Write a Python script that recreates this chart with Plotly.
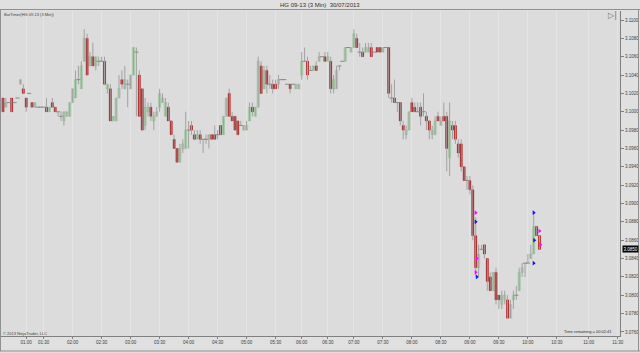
import plotly.graph_objects as go

# ---------------- data ----------------
tick_idx = [8, 14, 24, 34, 44, 54, 64, 74, 84, 94, 103, 112, 121, 131, 141, 151, 161, 171, 181, 191, 202, 212]
tick_text = ["01:00", "01:30", "02:00", "02:30", "03:00", "03:30", "04:00", "04:30", "05:00", "05:30", "06:00",
             "06:30", "07:00", "07:30", "08:00", "08:30", "09:00", "09:30", "10:00", "10:30", "11:00", "11:30"]

price_ticks = [3.0760, 3.0780, 3.0800, 3.0820, 3.0840, 3.0860, 3.0880, 3.0900, 3.0920,
               3.0940, 3.0960, 3.0980, 3.1000, 3.1020, 3.1040, 3.1060, 3.1080, 3.1100]

opens = [
    3.1015, 3.1005, 3.1010, 3.1015, 3.1010, 3.1015, 3.1030, 3.1025, 3.1015, 3.1020,
    3.1010, 3.1005, 3.1005, 3.1005, 3.1005, 3.1005, 3.1000, 3.1010, 3.1005, 3.1000,
    3.0995, 3.0990, 3.0995, 3.0995, 3.1010, 3.1015, 3.1035, 3.1025, 3.1055, 3.1080,
    3.1050, 3.1060, 3.1050, 3.1055, 3.1055, 3.1055, 3.1025, 3.1025, 3.0990, 3.0990,
    3.1015, 3.1035, 3.1025, 3.1030, 3.1025, 3.1040, 3.1065, 3.1040, 3.1025, 3.0985,
    3.1000, 3.1005, 3.0990, 3.0995, 3.1005, 3.1010, 3.0995, 3.1005, 3.0990, 3.0970,
    3.0960, 3.0945, 3.0960, 3.0960, 3.0980, 3.0985, 3.0975, 3.0970, 3.0975, 3.0970,
    3.0970, 3.0970, 3.0975, 3.0975, 3.0975, 3.0985, 3.0975, 3.0995, 3.1020, 3.0995,
    3.0995, 3.0990, 3.0985, 3.0980, 3.0980, 3.0990, 3.1005, 3.0995, 3.1005, 3.1050,
    3.1025, 3.1045, 3.1030, 3.1030, 3.1030, 3.1030, 3.1035, 3.1035, 3.1030, 3.1030,
    3.1030, 3.1025, 3.1025, 3.1040, 3.1055, 3.1055, 3.1045, 3.1045, 3.1050, 3.1055,
    3.1060, 3.1060, 3.1055, 3.1055, 3.1025, 3.1025, 3.1050, 3.1055, 3.1055, 3.1070,
    3.1065, 3.1070, 3.1080, 3.1065, 3.1065, 3.1065, 3.1065, 3.1070, 3.1065, 3.1070,
    3.1070, 3.1065, 3.1070, 3.1070, 3.1015, 3.1015, 3.1010, 3.1010, 3.0985, 3.0975,
    3.0980, 3.1010, 3.1005, 3.1000, 3.1005, 3.1000, 3.0995, 3.0990, 3.0975, 3.0975,
    3.0995, 3.0985, 3.0995, 3.0995, 3.0950, 3.0985, 3.0985, 3.0965, 3.0965, 3.0940,
    3.0925, 3.0925, 3.0915, 3.0865, 3.0830, 3.0850, 3.0855, 3.0840, 3.0820, 3.0805,
    3.0825, 3.0800, 3.0790, 3.0795, 3.0795, 3.0775, 3.0795, 3.0800, 3.0805, 3.0825,
    3.0835, 3.0835, 3.0840, 3.0845, 3.0875, 3.0865,
]

closes = [
    3.1000, 3.1010, 3.1010, 3.1000, 3.1010, 3.1015, 3.1035, 3.1020, 3.1005, 3.1020,
    3.1005, 3.1010, 3.1005, 3.1005, 3.1005, 3.1000, 3.1005, 3.1005, 3.1000, 3.1000,
    3.0995, 3.1000, 3.1000, 3.1010, 3.1025, 3.1035, 3.1035, 3.1050, 3.1080, 3.1040,
    3.1060, 3.1050, 3.1060, 3.1055, 3.1055, 3.1030, 3.1030, 3.0990, 3.0995, 3.1015,
    3.1025, 3.1030, 3.1035, 3.1030, 3.1040, 3.1070, 3.1065, 3.0995, 3.0980, 3.1005,
    3.1005, 3.0995, 3.0995, 3.1000, 3.1020, 3.1015, 3.1010, 3.0990, 3.0975, 3.0960,
    3.0945, 3.0960, 3.0965, 3.0980, 3.0980, 3.0980, 3.0970, 3.0975, 3.0970, 3.0970,
    3.0970, 3.0975, 3.0970, 3.0970, 3.0975, 3.0975, 3.0995, 3.1015, 3.0995, 3.0990,
    3.0980, 3.0975, 3.0985, 3.0985, 3.0985, 3.1005, 3.1000, 3.1005, 3.1055, 3.1020,
    3.1045, 3.1030, 3.1030, 3.1025, 3.1025, 3.1035, 3.1035, 3.1035, 3.1030, 3.1025,
    3.1030, 3.1030, 3.1030, 3.1055, 3.1055, 3.1040, 3.1045, 3.1050, 3.1045, 3.1060,
    3.1060, 3.1055, 3.1060, 3.1025, 3.1035, 3.1045, 3.1050, 3.1055, 3.1070, 3.1070,
    3.1070, 3.1085, 3.1070, 3.1065, 3.1060, 3.1070, 3.1070, 3.1060, 3.1065, 3.1065,
    3.1065, 3.1070, 3.1070, 3.1020, 3.1015, 3.1010, 3.1010, 3.0990, 3.0980, 3.0980,
    3.1000, 3.1000, 3.1000, 3.1000, 3.0995, 3.1000, 3.0990, 3.0980, 3.0980, 3.0990,
    3.0990, 3.0990, 3.0990, 3.0960, 3.0990, 3.0980, 3.0970, 3.0955, 3.0940, 3.0925,
    3.0925, 3.0915, 3.0865, 3.0830, 3.0845, 3.0850, 3.0845, 3.0815, 3.0805, 3.0825,
    3.0795, 3.0795, 3.0800, 3.0800, 3.0775, 3.0790, 3.0800, 3.0800, 3.0825, 3.0830,
    3.0835, 3.0835, 3.0845, 3.0875, 3.0865, 3.0850,
]

highs = [
    3.1015, 3.1015, 3.1010, 3.1015, 3.1010, 3.1015, 3.1035, 3.1030, 3.1015, 3.1020,
    3.1010, 3.1010, 3.1005, 3.1005, 3.1005, 3.1015, 3.1005, 3.1015, 3.1005, 3.1000,
    3.1000, 3.1000, 3.1000, 3.1010, 3.1025, 3.1045, 3.1050, 3.1055, 3.1090, 3.1085,
    3.1065, 3.1075, 3.1060, 3.1060, 3.1060, 3.1060, 3.1030, 3.1030, 3.0995, 3.1015,
    3.1040, 3.1045, 3.1050, 3.1035, 3.1040, 3.1070, 3.1070, 3.1045, 3.1025, 3.1015,
    3.1010, 3.1010, 3.1000, 3.1005, 3.1025, 3.1020, 3.1015, 3.1010, 3.0990, 3.0975,
    3.0960, 3.0965, 3.0970, 3.1000, 3.0990, 3.0990, 3.0980, 3.0980, 3.0980, 3.0970,
    3.0975, 3.0975, 3.0975, 3.0985, 3.0980, 3.0985, 3.0995, 3.1015, 3.1025, 3.1000,
    3.0995, 3.0990, 3.0990, 3.0985, 3.0990, 3.1010, 3.1010, 3.1005, 3.1060, 3.1055,
    3.1050, 3.1050, 3.1040, 3.1035, 3.1035, 3.1040, 3.1035, 3.1035, 3.1030, 3.1030,
    3.1030, 3.1030, 3.1030, 3.1065, 3.1070, 3.1060, 3.1050, 3.1050, 3.1055, 3.1065,
    3.1060, 3.1065, 3.1065, 3.1060, 3.1040, 3.1050, 3.1050, 3.1055, 3.1070, 3.1070,
    3.1070, 3.1090, 3.1085, 3.1075, 3.1070, 3.1075, 3.1075, 3.1075, 3.1065, 3.1070,
    3.1070, 3.1070, 3.1070, 3.1070, 3.1030, 3.1035, 3.1010, 3.1010, 3.0990, 3.0985,
    3.1000, 3.1015, 3.1010, 3.1010, 3.1010, 3.1020, 3.1000, 3.0990, 3.0985, 3.0995,
    3.1000, 3.0995, 3.1010, 3.1000, 3.1010, 3.0990, 3.0990, 3.0970, 3.0970, 3.0940,
    3.0930, 3.0930, 3.0920, 3.0885, 3.0855, 3.0855, 3.0855, 3.0840, 3.0825, 3.0825,
    3.0830, 3.0800, 3.0805, 3.0805, 3.0800, 3.0795, 3.0805, 3.0810, 3.0830, 3.0835,
    3.0835, 3.0845, 3.0855, 3.0890, 3.0875, 3.0865,
]

lows = [
    3.1000, 3.1005, 3.1010, 3.1000, 3.1010, 3.1015, 3.1030, 3.1020, 3.1000, 3.1020,
    3.1005, 3.1005, 3.1005, 3.1005, 3.1005, 3.1000, 3.1000, 3.1005, 3.1000, 3.0995,
    3.0990, 3.0985, 3.0995, 3.0995, 3.1010, 3.1015, 3.1030, 3.1025, 3.1055, 3.1040,
    3.1050, 3.1050, 3.1045, 3.1050, 3.1055, 3.1030, 3.1020, 3.0990, 3.0990, 3.0990,
    3.1015, 3.1025, 3.1025, 3.1005, 3.1025, 3.1040, 3.0995, 3.0995, 3.0980, 3.0980,
    3.0995, 3.0990, 3.0980, 3.0995, 3.1000, 3.1010, 3.0995, 3.0990, 3.0975, 3.0960,
    3.0945, 3.0945, 3.0955, 3.0960, 3.0960, 3.0975, 3.0970, 3.0970, 3.0965, 3.0955,
    3.0965, 3.0960, 3.0970, 3.0970, 3.0970, 3.0975, 3.0975, 3.0995, 3.0995, 3.0990,
    3.0980, 3.0975, 3.0985, 3.0980, 3.0980, 3.0990, 3.0995, 3.0995, 3.1005, 3.1020,
    3.1025, 3.1020, 3.1025, 3.1020, 3.1025, 3.1025, 3.1035, 3.1035, 3.1030, 3.1020,
    3.1030, 3.1025, 3.1025, 3.1035, 3.1055, 3.1035, 3.1045, 3.1045, 3.1045, 3.1055,
    3.1060, 3.1055, 3.1055, 3.1020, 3.1020, 3.1025, 3.1045, 3.1055, 3.1055, 3.1070,
    3.1065, 3.1070, 3.1070, 3.1060, 3.1060, 3.1065, 3.1065, 3.1060, 3.1065, 3.1065,
    3.1065, 3.1065, 3.1070, 3.1015, 3.1010, 3.1010, 3.1000, 3.0985, 3.0970, 3.0970,
    3.0980, 3.1000, 3.1000, 3.1000, 3.0985, 3.0995, 3.0980, 3.0970, 3.0970, 3.0975,
    3.0990, 3.0985, 3.0990, 3.0935, 3.0930, 3.0970, 3.0965, 3.0950, 3.0935, 3.0925,
    3.0915, 3.0910, 3.0860, 3.0820, 3.0820, 3.0850, 3.0840, 3.0805, 3.0805, 3.0805,
    3.0790, 3.0785, 3.0785, 3.0790, 3.0775, 3.0775, 3.0785, 3.0795, 3.0805, 3.0820,
    3.0820, 3.0835, 3.0840, 3.0845, 3.0865, 3.0850,
]

# small order / signal markers drawn by the platform
mark_idx = [163, 163, 163.4, 163, 163.4, 183, 185, 183.2, 183, 185.3]
mark_price = [3.0890, 3.0880, 3.0840, 3.0825, 3.0820, 3.0890, 3.0870, 3.0860, 3.0835, 3.0855]
mark_color = ["#ff00ff", "#1010ff", "#ff00ff", "#ff00ff", "#1010ff",
              "#1010ff", "#ff00ff", "#1010ff", "#1010ff", "#ff00ff"]

last_price = 3.0850

# ---------------- build traces ----------------
n = min(len(opens), len(closes), len(highs), len(lows))
idx = list(range(n))

wick_x, wick_y = [], []
for i in idx:
    wick_x += [i, i, None]
    wick_y += [lows[i], highs[i], None]

up_x, up_b, up_h = [], [], []
dn_x, dn_b, dn_h = [], [], []
dj_x, dj_y = [], []
for i in idx:
    o, c = opens[i], closes[i]
    if c > o:
        up_x.append(i); up_b.append(o); up_h.append(c - o)
    elif c < o:
        dn_x.append(i); dn_b.append(c); dn_h.append(o - c)
    else:
        dj_x.append(i); dj_y.append(c)

FONT = "Liberation Sans, Arial, sans-serif"

fig = go.Figure()
fig.add_trace(go.Scatter(x=wick_x, y=wick_y, mode="lines",
                         line=dict(color="#a2a2a2", width=1), hoverinfo="skip", showlegend=False))
fig.add_trace(go.Bar(x=up_x, y=up_h, base=up_b, width=0.78,
                     marker=dict(color="#a9dca9", line=dict(color="#93ab93", width=0.4)),
                     hoverinfo="skip", showlegend=False))
fig.add_trace(go.Bar(x=dn_x, y=dn_h, base=dn_b, width=0.78,
                     marker=dict(color="#a80000", line=dict(color="#a80000", width=0.3)),
                     hoverinfo="skip", showlegend=False))
fig.add_trace(go.Scatter(x=dj_x, y=dj_y, mode="markers",
                         marker=dict(symbol="line-ew", size=3, line=dict(color="#8a8a8a", width=1)),
                         hoverinfo="skip", showlegend=False))
fig.add_trace(go.Scatter(x=mark_idx, y=mark_price, mode="markers",
                         marker=dict(symbol="triangle-right", size=4, color=mark_color,
                                     line=dict(width=0)),
                         hoverinfo="skip", showlegend=False))

# pixel helpers for paper placement (plot area: x 1..620, y 11..336)
def px(x):
    return (x - 1) / 619.0

def py(y):
    return (336 - y) / 325.0

line_col = "#909090"
fig.update_layout(
    width=640, height=353,
    margin=dict(l=1, r=20, t=11, b=17, pad=0),
    paper_bgcolor="#e0e0e0",
    plot_bgcolor="#dcdcdc",
    barmode="overlay",
    font=dict(family=FONT, size=5, color="#404040"),
    xaxis=dict(range=[-0.69, 212.76], tickmode="array", tickvals=tick_idx, ticktext=tick_text,
               showgrid=True, gridcolor="#e4e4e4", gridwidth=1, zeroline=False,
               ticks="outside", ticklen=2, tickcolor="#808080",
               tickfont=dict(size=4.5, color="#404040", family=FONT),
               showline=True, linecolor="#808080", linewidth=1, fixedrange=True),
    yaxis=dict(range=[3.075559, 3.110981], side="right", tickmode="array", tickvals=price_ticks,
               tickformat=".4f", showgrid=False, zeroline=False,
               ticks="outside", ticklen=3, tickcolor="#808080",
               tickfont=dict(size=4.5, color="#404040", family=FONT),
               showline=True, linecolor="#808080", linewidth=1, fixedrange=True),
)

shapes = [
    dict(type="line", xref="paper", yref="paper", x0=px(0), x1=px(640), y0=py(9.5), y1=py(9.5),
         line=dict(color=line_col, width=1)),
    dict(type="line", xref="paper", yref="paper", x0=px(0.5), x1=px(0.5), y0=py(9.5), y1=py(351),
         line=dict(color=line_col, width=1)),
    dict(type="line", xref="paper", yref="paper", x0=px(638.5), x1=px(638.5), y0=py(9.5), y1=py(351),
         line=dict(color=line_col, width=1)),
    dict(type="line", xref="paper", yref="paper", x0=px(0), x1=px(640), y0=py(351), y1=py(351),
         line=dict(color=line_col, width=1)),
]
fig.update_layout(shapes=shapes)

annotations = [
    dict(text="HG 09-13 (3 Min)  30/07/2013", xref="paper", yref="paper", x=px(320), y=py(5),
         xanchor="center", yanchor="middle", showarrow=False, font=dict(size=6, color="#303030", family=FONT)),
    dict(text="BarTimer(HG 09-13 (3 Min))", xref="paper", yref="paper", x=px(2), y=py(14),
         xanchor="left", yanchor="middle", showarrow=False, font=dict(size=4, color="#404040", family=FONT)),
    dict(text="© 2013 NinjaTrader, LLC", xref="paper", yref="paper", x=px(1), y=py(333.5),
         xanchor="left", yanchor="middle", showarrow=False, font=dict(size=4, color="#404040", family=FONT)),
    dict(text="Time remaining = 00:02:41", xref="paper", yref="paper", x=px(614), y=py(331.5),
         xanchor="right", yanchor="middle", showarrow=False, font=dict(size=4, color="#303030", family=FONT)),
    dict(text="▷|", xref="paper", yref="paper", x=px(612), y=py(16),
         xanchor="center", yanchor="middle", showarrow=False, font=dict(size=8, color="#707070", family="DejaVu Sans")),
    dict(text="%.4f" % last_price, xref="paper", yref="y", x=1, y=last_price, xshift=2,
         xanchor="left", yanchor="middle", showarrow=False, bgcolor="#000000", borderpad=0.5,
         font=dict(size=4.5, color="#ffffff", family=FONT)),
]
fig.update_layout(annotations=annotations)

fig.write_html("out.html")
